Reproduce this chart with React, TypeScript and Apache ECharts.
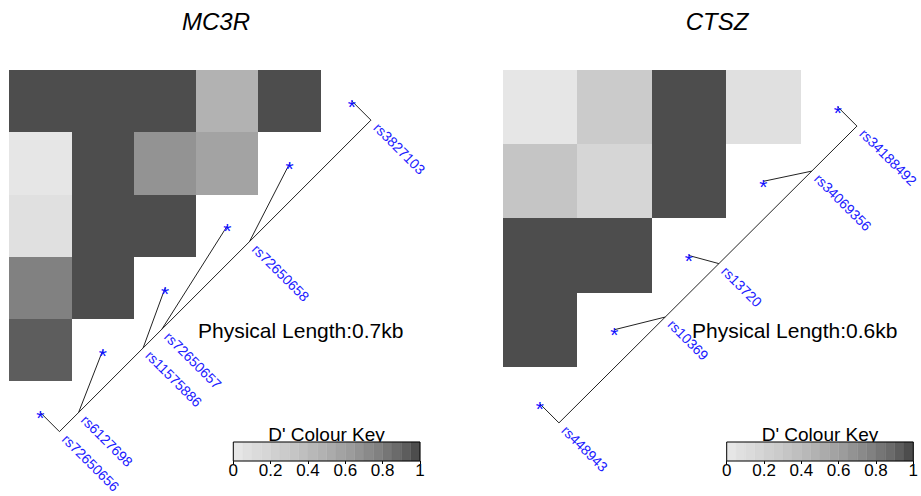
import React, { useEffect, useRef } from "react";
import * as echarts from "echarts";

const FONT = "'Liberation Sans', Arial, Helvetica, sans-serif";

// ---- MC3R ----
const mc3rTitle = "MC3R";
const mc3rSnps = ["rs72650656", "rs6127698", "rs11575886", "rs72650657", "rs72650658", "rs3827103"];
const mc3rPositions = [0, 43, 188, 230, 427, 700]; // bp
const mc3rLength = "Physical Length:0.7kb";
// [snpA, snpB, D']
const mc3rDprime = [
  [0, 1, 0.92], [0, 2, 0.77], [0, 3, 0.07], [0, 4, 0.03], [0, 5, 1],
  [1, 2, 1], [1, 3, 1], [1, 4, 1], [1, 5, 1],
  [2, 3, 1], [2, 4, 0.67], [2, 5, 1],
  [3, 4, 0.57], [3, 5, 0.47],
  [4, 5, 1],
];

// ---- CTSZ ----
const ctszTitle = "CTSZ";
const ctszSnps = ["rs448943", "rs10369", "rs13720", "rs34069356", "rs34188492"];
const ctszPositions = [0, 214, 322, 509, 600]; // bp
const ctszLength = "Physical Length:0.6kb";
const ctszDprime = [
  [0, 1, 1], [0, 2, 1], [0, 3, 0.32], [0, 4, 0.03],
  [1, 2, 1], [1, 3, 0.19], [1, 4, 0.29],
  [2, 3, 1], [2, 4, 1],
  [3, 4, 0.09],
];

// ---- colour key ----
const keyTitle = "D' Colour Key";
const keyTicks = [0, 0.2, 0.4, 0.6, 0.8, 1];
const keyBinCount = 20;

function greyColour(v: number): string {
  const n = keyBinCount;
  const lo = Math.pow(0.3, 2.2);
  const hi = Math.pow(0.9, 2.2);
  const i = Math.max(0, Math.min(n - 1, Math.floor(v * n)));
  const g = Math.pow(hi - (i * (hi - lo)) / (n - 1), 1 / 2.2);
  const c = Math.round(g * 255);
  return `rgb(${c},${c},${c})`;
}

function cellRenderer(n: number) {
  return (params: any, api: any) => {
    const a = api.value(0);
    const b = api.value(1);
    const d = api.value(2);
    const p0 = api.coord([a, n - 1 - b]);
    const p1 = api.coord([a + 1, n - b]);
    const x0 = Math.round(Math.min(p0[0], p1[0]));
    const x1 = Math.round(Math.max(p0[0], p1[0]));
    const y0 = Math.round(Math.min(p0[1], p1[1]));
    const y1 = Math.round(Math.max(p0[1], p1[1]));
    return {
      type: "rect",
      shape: { x: x0, y: y0, width: x1 - x0, height: y1 - y0 },
      style: { fill: greyColour(d) },
    };
  };
}

function mapRenderer(snps: string[], positions: number[], offset: number) {
  const n = snps.length;
  return (params: any, api: any) => {
    const k = api.value(0);
    const star = api.coord([k + 0.5, n - 1 - k + 0.5]);
    const first = api.coord([0.5, n - 0.5]);
    const last = api.coord([n - 0.5, 0.5]);
    const f = (positions[k] - positions[0]) / (positions[n - 1] - positions[0]);
    const lx0 = first[0] + offset;
    const ly0 = first[1] + offset;
    const lx1 = last[0] + offset;
    const ly1 = last[1] + offset;
    const px = lx0 + f * (lx1 - lx0);
    const py = ly0 + f * (ly1 - ly0);
    const children: any[] = [
      {
        type: "line",
        shape: { x1: star[0], y1: star[1], x2: px, y2: py },
        style: { stroke: "#222", lineWidth: 1 },
      },
      {
        type: "text",
        x: star[0],
        y: star[1] + 5,
        style: { text: "*", fill: "#1010ff", fontSize: 21, fontFamily: FONT, align: "center", verticalAlign: "middle" },
      },
      {
        type: "text",
        x: px + 5,
        y: py + 5,
        rotation: -Math.PI / 4,
        style: { text: snps[k], fill: "#2020ff", fontSize: 14, fontFamily: FONT, align: "left", verticalAlign: "middle" },
      },
    ];
    if (k === 0) {
      children.unshift({
        type: "line",
        shape: { x1: lx0, y1: ly0, x2: lx1, y2: ly1 },
        style: { stroke: "#222", lineWidth: 1 },
      });
    }
    return { type: "group", children };
  };
}

function keyRenderer(params: any, api: any) {
  const i = api.value(0);
  const lo = i / keyBinCount;
  const hi = (i + 1) / keyBinCount;
  const p0 = api.coord([lo, 1]);
  const p1 = api.coord([hi, 0]);
  const col = greyColour((i + 0.5) / keyBinCount);
  return {
    type: "rect",
    shape: { x: p0[0], y: p0[1], width: p1[0] - p0[0], height: p1[1] - p0[1] },
    style: { fill: col, stroke: col, lineWidth: 0.4 },
  };
}

function hiddenAxis(gridIndex: number, max: number, inverse = false) {
  return { type: "value", gridIndex, min: 0, max, inverse, show: false };
}

function keyXAxis(gridIndex: number) {
  return {
    type: "value",
    gridIndex,
    min: 0,
    max: 1,
    interval: 0.2,
    position: "bottom",
    axisLine: { show: false },
    axisTick: { show: true, length: 3, lineStyle: { color: "#000", width: 1 } },
    axisLabel: {
      show: true,
      color: "#000",
      fontSize: 17,
      fontFamily: FONT,
      margin: 1,
      formatter: (v: number) => (keyTicks.indexOf(Math.round(v * 10) / 10) >= 0 ? String(Math.round(v * 10) / 10) : ""),
    },
    splitLine: { show: false },
  };
}

export default function App() {
  const ref = useRef<HTMLDivElement>(null);
  useEffect(() => {
    if (!ref.current) return;
    const chart = echarts.init(ref.current, undefined, { renderer: "svg" });
    const mc3rN = mc3rSnps.length;
    const ctszN = ctszSnps.length;
    const keyData = Array.from({ length: keyBinCount }, (_, i) => [i, 0]);
    const option: any = {
      animation: false,
      backgroundColor: "#fff",
      grid: [
        { left: 9.3, top: 70, width: 62.3 * mc3rN, height: 62.3 * mc3rN },
        { left: 502.7, top: 70, width: 74.5 * ctszN, height: 74.2 * ctszN },
        { left: 233.3, top: 442, width: 186.7, height: 19, show: true, borderColor: "#000", borderWidth: 1, backgroundColor: "transparent", z: 3 },
        { left: 726.7, top: 442, width: 186.6, height: 19, show: true, borderColor: "#000", borderWidth: 1, backgroundColor: "transparent", z: 3 },
      ],
      xAxis: [hiddenAxis(0, mc3rN), hiddenAxis(1, ctszN), keyXAxis(2), keyXAxis(3)],
      yAxis: [
        hiddenAxis(0, mc3rN, true),
        hiddenAxis(1, ctszN, true),
        hiddenAxis(2, 1),
        hiddenAxis(3, 1),
      ],
      series: [
        { type: "custom", xAxisIndex: 0, yAxisIndex: 0, data: mc3rDprime, renderItem: cellRenderer(mc3rN), silent: true },
        { type: "custom", xAxisIndex: 0, yAxisIndex: 0, data: mc3rSnps.map((_, k) => [k, 0]), renderItem: mapRenderer(mc3rSnps, mc3rPositions, 19), silent: true, z: 4 },
        { type: "custom", xAxisIndex: 1, yAxisIndex: 1, data: ctszDprime, renderItem: cellRenderer(ctszN), silent: true },
        { type: "custom", xAxisIndex: 1, yAxisIndex: 1, data: ctszSnps.map((_, k) => [k, 0]), renderItem: mapRenderer(ctszSnps, ctszPositions, 19), silent: true, z: 4 },
        { type: "custom", xAxisIndex: 2, yAxisIndex: 2, data: keyData, renderItem: keyRenderer, silent: true },
        { type: "custom", xAxisIndex: 3, yAxisIndex: 3, data: keyData, renderItem: keyRenderer, silent: true },
      ],
      graphic: [
        { type: "text", x: 216, y: 21, style: { text: mc3rTitle, fontSize: 24, fontStyle: "italic", fontFamily: FONT, fill: "#000", align: "center", verticalAlign: "middle" } },
        { type: "text", x: 717, y: 21, style: { text: ctszTitle, fontSize: 24, fontStyle: "italic", fontFamily: FONT, fill: "#000", align: "center", verticalAlign: "middle" } },
        { type: "text", x: 198, y: 330, style: { text: mc3rLength, fontSize: 21, fontFamily: FONT, fill: "#000", align: "left", verticalAlign: "middle" } },
        { type: "text", x: 692, y: 330, style: { text: ctszLength, fontSize: 21, fontFamily: FONT, fill: "#000", align: "left", verticalAlign: "middle" } },
        { type: "text", x: 326.5, y: 434, style: { text: keyTitle, fontSize: 19, fontFamily: FONT, fill: "#000", align: "center", verticalAlign: "middle" } },
        { type: "text", x: 820, y: 434, style: { text: keyTitle, fontSize: 19, fontFamily: FONT, fill: "#000", align: "center", verticalAlign: "middle" } },
      ],
    };
    chart.setOption(option);
    return () => chart.dispose();
  }, []);
  return <div ref={ref} style={{ position: "fixed", left: 0, top: 0, width: 921, height: 496 }} />;
}
